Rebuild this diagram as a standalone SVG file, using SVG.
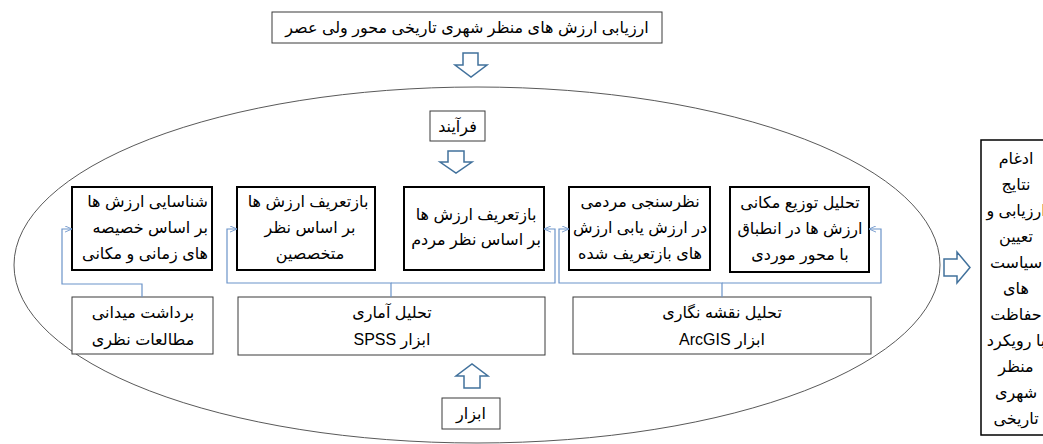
<svg xmlns="http://www.w3.org/2000/svg" width="1043" height="444" viewBox="0 0 1043 444">
<style>
text{font-family:"Liberation Sans","DejaVu Sans",sans-serif;font-size:16px;fill:#000;direction:rtl;text-anchor:middle}
.big{font-size:16px}
.thick{fill:#fff;stroke:#000;stroke-width:2}
.thin{fill:#fff;stroke:#3a3a3a;stroke-width:1}
.blk{fill:#fff;stroke:#41719c;stroke-width:1.5;stroke-linejoin:miter}
.con{fill:none;stroke:#6b93c9;stroke-width:1.2}
</style>
<defs>
<marker id="ah" viewBox="0 0 8 8" refX="8" refY="4" markerWidth="7" markerHeight="7" orient="auto" markerUnits="userSpaceOnUse">
<path d="M0,0.5 L8,4 L0,7.5" fill="none" stroke="#6b93c9" stroke-width="1"/>
</marker>
<clipPath id="rclip"><rect x="982" y="141" width="80" height="294"/></clipPath>
</defs>
<rect width="1043" height="444" fill="#fff"/>
<ellipse cx="477" cy="265" rx="463" ry="178" fill="none" stroke="#595959" stroke-width="1"/>

<g id="title">
<rect x="272" y="12" width="390" height="31" fill="#fff" stroke="#3a3a3a" stroke-width="1"/>
<text x="467" y="33" class="big">ارزیابی ارزش های منظر شهری تاریخی محور ولی عصر</text>
</g>
<g id="arrow-down-1"><path class="blk" d="M463,53 H478 V65 H487 L471,77 L455,65 H463 Z"/></g>
<g id="process">
<rect class="thin" x="430" y="111" width="55" height="30"/>
<text x="457.5" y="132">فرآیند</text>
</g>
<g id="arrow-down-2"><path class="blk" d="M448,151 H464 V162 H472 L456,173 L440,162 H448 Z"/></g>

<g id="box1">
<rect class="thick" x="72" y="187" width="140" height="83"/>
<text x="208" y="207" style="text-anchor:start">شناسایی ارزش ها</text>
<text x="208" y="233" style="text-anchor:start">بر اساس خصیصه</text>
<text x="208" y="259" style="text-anchor:start">های زمانی و مکانی</text>
</g>
<g id="box2">
<rect class="thick" x="237" y="187" width="138" height="83"/>
<text x="308" y="207">بازتعریف ارزش ها</text>
<text x="310" y="233">بر اساس نظر</text>
<text x="310" y="259">متخصصین</text>
</g>
<g id="box3">
<rect class="thick" x="404" y="187" width="140" height="83"/>
<text x="476" y="220">بازتعریف ارزش ها</text>
<text x="476" y="245">بر اساس نظر مردم</text>
</g>
<g id="box4">
<rect class="thick" x="569" y="187" width="141" height="83"/>
<text x="640" y="207">نظرسنجی مردمی</text>
<text x="640" y="233">در ارزش یابی ارزش</text>
<text x="640" y="259">های بازتعریف شده</text>
</g>
<g id="box5">
<rect class="thick" x="730" y="187" width="139" height="85"/>
<text x="800" y="208">تحلیل توزیع مکانی</text>
<text x="800" y="234">ارزش ها در انطباق</text>
<text x="800" y="260">با محور موردی</text>
</g>

<g id="boxA">
<rect class="thin" x="72" y="297" width="141" height="57"/>
<text x="143" y="318">برداشت میدانی</text>
<text x="143" y="345">مطالعات نظری</text>
</g>
<g id="boxB">
<rect class="thin" x="238" y="297" width="307" height="58"/>
<text x="392" y="318">تحلیل آماری</text>
<text x="392" y="345">ابزار SPSS</text>
</g>
<g id="boxC">
<rect class="thin" x="573" y="297" width="298" height="57"/>
<text x="722" y="318">تحلیل نقشه نگاری</text>
<text x="722" y="345">ابزار ArcGIS</text>
</g>

<g id="arrow-up"><path class="blk" d="M464,388 H480 V376 H488 L472,364 L456,376 H464 Z"/></g>
<g id="tools">
<rect class="thin" x="442" y="398" width="58" height="31"/>
<text x="471" y="419">ابزار</text>
</g>

<g id="arrow-right"><path class="blk" d="M944,259 H957 V252 L970,267.5 L957,283 V276 H944 Z"/></g>
<g id="result">
<rect x="981" y="140" width="80" height="295" fill="#fff" stroke="#000" stroke-width="1.5"/>
<g clip-path="url(#rclip)">
<text x="1016" y="164">ادغام</text>
<text x="1016" y="190">نتایج</text>
<text x="1016" y="216">ارزیابی و</text>
<text x="1016" y="242">تعیین</text>
<text x="1016" y="268">سیاست</text>
<text x="1016" y="294">های</text>
<text x="1016" y="320">حفاظت</text>
<text x="1016" y="346">با رویکرد</text>
<text x="1016" y="372">منظر</text>
<text x="1016" y="398">شهری</text>
<text x="1016" y="424">تاریخی</text>
</g>
</g>

<g id="connectors">
<polyline class="con" points="142,297 142,284 62,284 62,229 72,229" marker-end="url(#ah)"/>
<polyline class="con" points="391,297 391,283 227,283 227,229 237,229" marker-end="url(#ah)"/>
<polyline class="con" points="391,283 555,283 555,229 544,229" marker-end="url(#ah)"/>
<polyline class="con" points="722,297 722,283 559,283 559,229 569,229" marker-end="url(#ah)"/>
<polyline class="con" points="722,283 881,283 881,229 869,229" marker-end="url(#ah)"/>
</g>
</svg>
